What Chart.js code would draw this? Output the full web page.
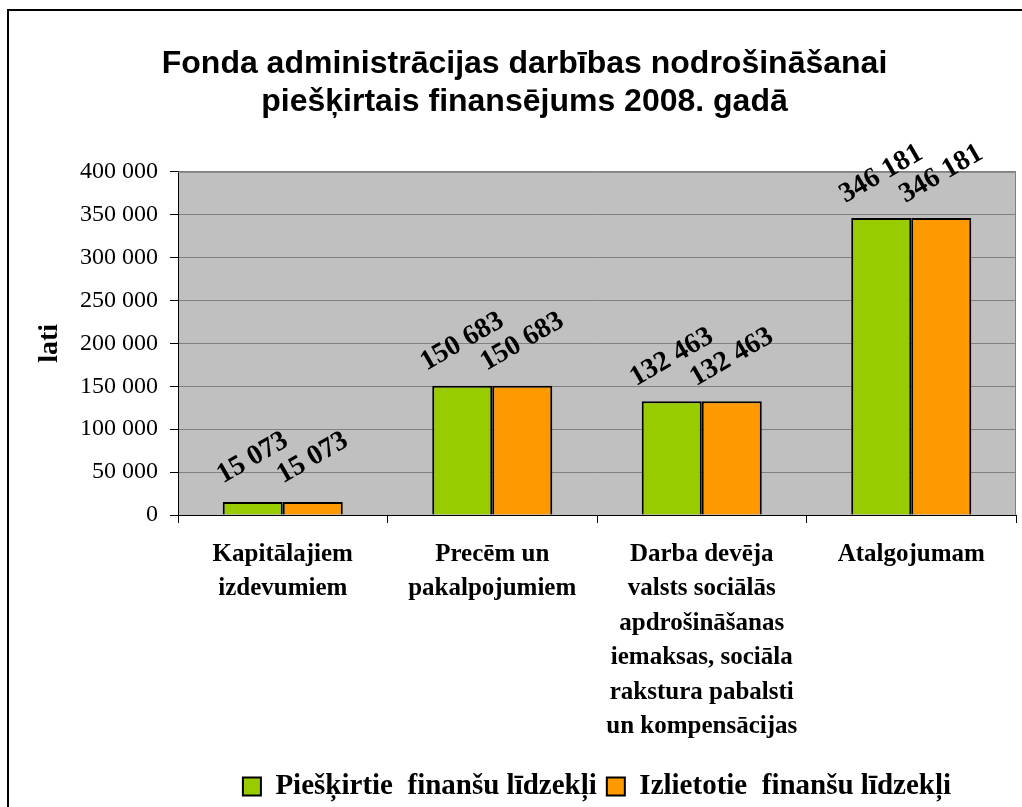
<!DOCTYPE html>
<html lang="lv">
<head>
<meta charset="UTF-8" />
<title>Fonda administrācijas finansējums 2008. gadā</title>
<script src="https://cdn.jsdelivr.net/npm/chart.js"></script>
<style>
  html, body { margin: 0; padding: 0; background: #fff; overflow: hidden; }
  #frame { position: absolute; left: 7px; top: 9px; width: 1030px; height: 820px; border: 2px solid #000; }
  #frame canvas { display: block; }
</style>
</head>
<body>
<div id="frame"><canvas id="chart" width="1030" height="820"></canvas></div>
<script>
// izdevumu kategorijas (daudzrindu paraksti)
const categories = [
  ['Kapitālajiem', 'izdevumiem'],
  ['Precēm un', 'pakalpojumiem'],
  ['Darba devēja', 'valsts sociālās', 'apdrošināšanas', 'iemaksas, sociāla', 'rakstura pabalsti', 'un kompensācijas'],
  ['Atalgojumam']
];
const allocated = [15073, 150683, 132463, 346181];
const spent = [15073, 150683, 132463, 346181];
const seriesNames = ['Piešķirtie  finanšu līdzekļi', 'Izlietotie  finanšu līdzekļi'];
const yMin = 0, yMax = 400000, yStep = 50000;

const serif = '"Liberation Serif", "Times New Roman", serif';
const sans = '"Liberation Sans", Arial, sans-serif';

// 150683 -> "150 683"
const fmt = v => String(v).replace(/\B(?=(\d{3})+(?!\d))/g, ' ');

// pelēkais zīmēšanas laukums
const plotBackground = {
  id: 'plotBackground',
  beforeDraw(chart) {
    const { ctx, chartArea: a } = chart;
    ctx.save();
    ctx.fillStyle = '#c0c0c0';
    ctx.fillRect(a.left, a.top, a.width, a.height);
    ctx.restore();
  },
  beforeDatasetsDraw(chart) {
    const { ctx, chartArea: a } = chart;
    ctx.save();
    ctx.strokeStyle = '#808080';
    ctx.lineWidth = 1;
    ctx.beginPath();
    ctx.moveTo(a.left, a.top + 0.5);
    ctx.lineTo(a.right - 0.5, a.top + 0.5);
    ctx.lineTo(a.right - 0.5, a.bottom);
    ctx.stroke();
    ctx.restore();
  }
};

// slīpās vērtību etiķetes virs stabiņiem
const barValues = {
  id: 'barValues',
  afterDatasetsDraw(chart) {
    const { ctx } = chart;
    ctx.save();
    ctx.font = 'bold 28px ' + serif;
    ctx.fillStyle = '#000';
    ctx.textAlign = 'center';
    ctx.textBaseline = 'middle';
    chart.data.datasets.forEach((ds, i) => {
      chart.getDatasetMeta(i).data.forEach((bar, j) => {
        ctx.save();
        ctx.translate(bar.x, bar.y - 44);
        ctx.rotate(-Math.PI / 6);
        ctx.fillText(fmt(ds.data[j]), 0, 0);
        ctx.restore();
      });
    });
    ctx.restore();
  }
};

new Chart(document.getElementById('chart'), {
  type: 'bar',
  data: {
    labels: categories,
    datasets: [
      { label: seriesNames[0], data: allocated, backgroundColor: '#99cc00', borderColor: '#000', borderWidth: 2 },
      { label: seriesNames[1], data: spent, backgroundColor: '#ff9900', borderColor: '#000', borderWidth: 2 }
    ]
  },
  options: {
    responsive: false,
    animation: false,
    devicePixelRatio: 1,
    // stabiņi pārī cieši kopā
    datasets: { bar: { categoryPercentage: 0.573, barPercentage: 1 } },
    layout: { padding: { top: 0, left: 24, right: 23, bottom: 20 } },
    plugins: {
      tooltip: { enabled: false },
      title: {
        display: true,
        text: ['Fonda administrācijas darbības nodrošināšanai', 'piešķirtais finansējums 2008. gadā'],
        color: '#000',
        font: { family: sans, size: 32, weight: 'bold', lineHeight: 1.2 },
        padding: { top: 34, bottom: 50 }
      },
      legend: {
        position: 'bottom',
        fullSize: false,
        labels: {
          color: '#000',
          font: { family: serif, size: 29, weight: 'bold' },
          boxWidth: 18,
          boxHeight: 18,
          padding: 10
        }
      }
    },
    scales: {
      x: {
        grid: { offset: true, drawOnChartArea: false, tickLength: 8, color: '#000' },
        border: { color: '#000', width: 1 },
        ticks: {
          color: '#000',
          font: { family: serif, size: 25, weight: 'bold', lineHeight: 1.38 },
          padding: 14,
          maxRotation: 0,
          minRotation: 0,
          autoSkip: false
        },
        afterFit(scale) { scale.height = 247; }
      },
      y: {
        min: yMin,
        max: yMax,
        grid: { color: '#808080', tickColor: '#000', tickLength: 8 },
        border: { color: '#000', width: 1 },
        ticks: {
          stepSize: yStep,
          color: '#000',
          font: { family: serif, size: 24 },
          padding: 12,
          callback: v => fmt(v)
        },
        title: {
          display: true,
          text: 'lati',
          color: '#000',
          font: { family: serif, size: 28, weight: 'bold', lineHeight: 1.2 },
          padding: { top: 0, bottom: 0 }
        },
        afterFit(scale) { scale.width = 145; }
      }
    }
  },
  plugins: [plotBackground, barValues]
});
</script>
</body>
</html>
